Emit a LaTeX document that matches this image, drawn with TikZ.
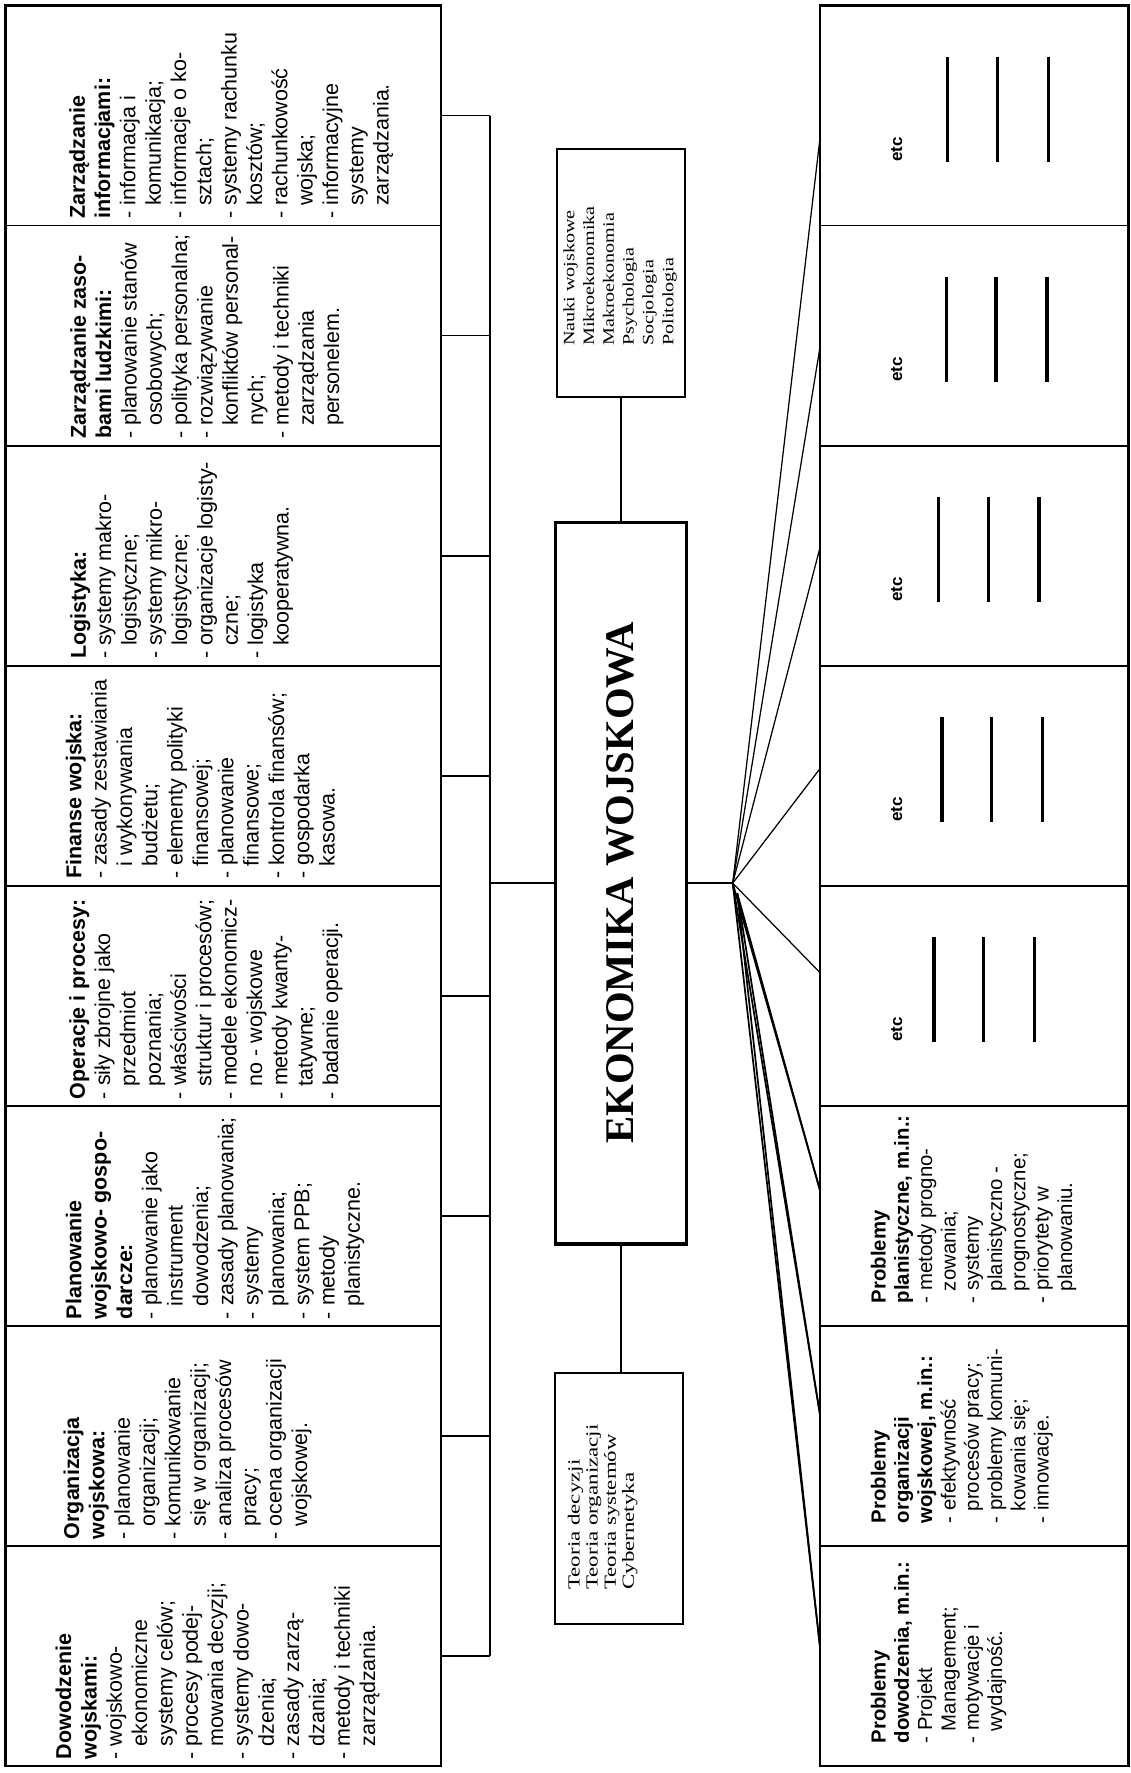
\documentclass[tikz,border=0pt]{standalone}
\usepackage{fontspec}
\usepackage{graphicx}
\setmainfont{Liberation Sans}
\newfontfamily\naukfont[FakeStretch=1.27]{Liberation Serif}
\newfontfamily\teorfont[FakeStretch=1.35]{Liberation Serif}
\newfontfamily\titlefont{Liberation Serif}
\usetikzlibrary{calc}
\newcommand\ind{\hspace*{0.6em}}
\begin{document}
\begin{tikzpicture}[x=1pt,y=-1pt,
  cellbox/.style={draw,line width=1.3pt,minimum width=385pt,minimum height=194.625pt,anchor=north west,inner sep=0pt,outer sep=0pt},
  rcellbox/.style={cellbox,minimum width=273pt},
  ctext/.style={rotate=90,anchor=north west,align=left,inner sep=0pt,font=\fontsize{19}{22.4}\selectfont},
  rtext/.style={rotate=90,anchor=north west,align=left,inner sep=0pt,font=\fontsize{18}{20.6}\selectfont},
  etctext/.style={rotate=90,anchor=west,inner sep=0pt,font=\bfseries\fontsize{15}{15}\selectfont},
  bar/.style={line width=3pt},
  conn/.style={line width=1.6pt},
  fanline/.style={line width=1.1pt},
  fanthick/.style={line width=1.5pt},
  bigbox/.style={draw,line width=3pt,inner sep=0pt},
  sbox/.style={draw,line width=1.8pt,inner sep=0pt}
]
\useasboundingbox (0,0) rectangle (1000,1568);

% columns of cells
\foreach \i in {1,...,8}{
  \node[cellbox] (L\i) at (5,{5+194.625*(\i-1)}) {};
  \node[rcellbox] (R\i) at (725,{5+194.625*(\i-1)}) {};
}
\draw[line width=2.2pt] (L1.north west) rectangle (L8.south east);
\draw[line width=2.2pt] (R1.north west) rectangle (R8.south east);

% left cell texts
\node[ctext] (t1) at ([xshift=56pt,yshift=6pt]L1.south west) {%
\textbf{Zarządzanie}\\\textbf{informacjami:}\\- informacja i\\\ind komunikacja;\\- informacje o ko-\\\ind sztach;\\- systemy rachunku\\\ind kosztów;\\- rachunkowość\\\ind wojska;\\- informacyjne\\\ind systemy\\\ind zarządzania.};
\node[ctext] (t2) at ([xshift=57pt,yshift=6pt]L2.south west) {%
\textbf{Zarządzanie zaso-}\\\textbf{bami ludzkimi:}\\- planowanie stanów\\\ind osobowych;\\- polityka personalna;\\- rozwiązywanie\\\ind konfliktów personal-\\\ind nych;\\- metody i techniki\\\ind zarządzania\\\ind personelem.};
\node[ctext] (t3) at ([xshift=57pt,yshift=6pt]L3.south west) {%
\textbf{Logistyka:}\\- systemy makro-\\\ind logistyczne;\\- systemy mikro-\\\ind logistyczne;\\- organizacje logisty-\\\ind czne;\\- logistyka\\\ind kooperatywna.};
\node[ctext] (t4) at ([xshift=53pt,yshift=6pt]L4.south west) {%
\textbf{Finanse wojska:}\\- zasady zestawiania\\\ind i wykonywania\\\ind budżetu;\\- elementy polityki\\\ind finansowej;\\- planowanie\\\ind finansowe;\\- kontrola finansów;\\- gospodarka\\\ind kasowa.};
\node[ctext] (t5) at ([xshift=56pt,yshift=6pt]L5.south west) {%
\textbf{Operacje i procesy:}\\- siły zbrojne jako\\\ind przedmiot\\\ind poznania;\\- właściwości\\\ind struktur i procesów;\\- modele ekonomicz-\\\ind no - wojskowe\\- metody kwanty-\\\ind tatywne;\\- badanie operacji.};
\node[ctext] (t6) at ([xshift=53pt,yshift=6pt]L6.south west) {%
\textbf{Planowanie}\\\textbf{wojskowo- gospo-}\\\textbf{darcze:}\\- planowanie jako\\\ind instrument\\\ind dowodzenia;\\- zasady planowania;\\- systemy\\\ind planowania;\\- system PPB;\\- metody\\\ind planistyczne.};
\node[ctext] (t7) at ([xshift=51pt,yshift=6pt]L7.south west) {%
\textbf{Organizacja}\\\textbf{wojskowa:}\\- planowanie\\\ind organizacji;\\- komunikowanie\\\ind się w organizacji;\\- analiza procesów\\\ind pracy;\\- ocena organizacji\\\ind wojskowej.};
\node[ctext] (t8) at ([xshift=44pt,yshift=6pt]L8.south west) {%
\textbf{Dowodzenie}\\\textbf{wojskami:}\\- wojskowo-\\\ind ekonomiczne\\\ind systemy celów;\\- procesy podej-\\\ind mowania decyzji;\\- systemy dowo-\\\ind dzenia;\\- zasady zarzą-\\\ind dzania;\\- metody i techniki\\\ind zarządzania.};

% bracket
\coordinate (bx) at (433,0);
\foreach \i in {1,...,8}{
  \draw[line width=1.3pt] (L\i.east) -- (L\i.east -| bx);
}
\draw[line width=1.8pt] (L1.east -| bx) -- (L8.east -| bx);

% central boxes
\node[bigbox,minimum width=116pt,minimum height=638pt] (eko) at (549,781)
  {\rotatebox{90}{\titlefont\bfseries\fontsize{36}{36}\selectfont EKONOMIKA WOJSKOWA}};
\node[sbox,minimum width=113pt,minimum height=219pt] (nauki) at (549.5,241.5) {};
\node[rotate=90,anchor=north west,align=left,inner sep=0pt,font=\naukfont\fontsize{14}{17.5}\selectfont] (naukit) at (498,306)
  {Nauki wojskowe\\Mikroekonomika\\Makroekonomia\\Psychologia\\Socjologia\\Politologia};
\node[sbox,minimum width=113pt,minimum height=222pt] (teoria) at (547.5,1325) {};
\node[rotate=90,anchor=north west,align=left,inner sep=0pt,font=\teorfont\fontsize{15}{16}\selectfont] (teoriat) at (502,1406)
  {Teoria decyzji\\Teoria organizacji\\Teoria systemów\\Cybernetyka};

\draw[conn] (eko.west -| bx) -- (eko.west);
\draw[conn] (nauki.south) -- (nauki.south |- eko.north);
\draw[conn] (eko.south) -- (eko.south |- teoria.north);

% fan
\coordinate (fan) at (648,781);
\draw[conn] (eko.east) -- (fan);
\foreach \i/\f in {1/0.61,2/0.557,3/0.466,4/0.468,5/0.393}{
  \draw[fanline] (fan) -- ($(R\i.north west)!\f!(R\i.south west)$);
}
\foreach \i/\f in {6/0.38,7/0.397,8/0.45}{
  \draw[fanthick] (fan) -- ($(R\i.north west)!\f!(R\i.south west)$);
  \draw[fanthick] ($(fan)+(4,9)$) -- ($(R\i.north west)!\f!(R\i.south west)$);
}

% etc cells
\foreach \i/\s in {1/113,2/112,3/105,4/108,5/101}{
  \node[etctext] (e\i) at ($(R\i.north west)+(68,138)$) {etc};
  \draw[bar] ($(R\i.north west)+(\s,45)$) -- ++(0,93);
  \draw[bar] ($(R\i.north west)+({\s+44},45)$) -- ++(0,93);
  \draw[bar] ($(R\i.north west)+({\s+89},45)$) -- ++(0,93);
}

% right problem cells
\node[rtext] (r6) at ([xshift=45pt,yshift=20pt]R6.south west) {%
\textbf{Problemy}\\\textbf{planistyczne, m.in.:}\\- metody progno-\\\ind zowania;\\- systemy\\\ind planistyczno -\\\ind prognostyczne;\\- priorytety w\\\ind planowaniu.};
\node[rtext] (r7) at ([xshift=45pt,yshift=20pt]R7.south west) {%
\textbf{Problemy}\\\textbf{organizacji}\\\textbf{wojskowej, m.in.:}\\- efektywność\\\ind procesów pracy;\\- problemy komuni-\\\ind kowania się;\\- innowacje.};
\node[rtext] (r8) at ([xshift=45pt,yshift=20pt]R8.south west) {%
\textbf{Problemy}\\\textbf{dowodzenia, m.in.:}\\- Projekt\\\ind Management;\\- motywacje i\\\ind wydajność.};
\end{tikzpicture}
\end{document}
